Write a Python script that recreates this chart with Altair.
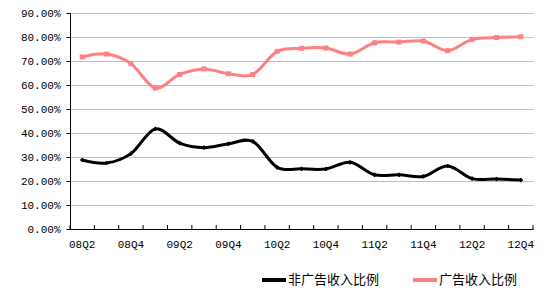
import altair as alt
import pandas as pd

quarters = ["08Q2", "08Q3", "08Q4", "09Q1", "09Q2", "09Q3", "09Q4", "10Q1", "10Q2", "10Q3",
            "10Q4", "11Q1", "11Q2", "11Q3", "11Q4", "12Q1", "12Q2", "12Q3", "12Q4"]
non_ad = [28.75, 27.5, 31.4, 41.7, 35.8, 33.9, 35.5, 36.5, 25.7, 25.1,
          25.0, 27.8, 22.6, 22.6, 21.9, 26.25, 21.0, 20.8, 20.4]
ad = [71.7, 72.9, 68.9, 58.75, 64.4, 66.7, 64.7, 64.4, 74.0, 75.3,
      75.4, 72.9, 77.6, 77.9, 78.3, 74.3, 79.0, 79.8, 80.1]
series_names = ["非广告收入比例", "广告收入比例"]
tick_labels = quarters[::2]
y_ticks = [0.0, 0.1, 0.2, 0.3, 0.4, 0.5, 0.6, 0.7, 0.8, 0.9]

df = pd.DataFrame({
    "q": quarters * 2,
    "v": [x / 100 for x in non_ad + ad],
    "s": [series_names[0]] * len(quarters) + [series_names[1]] * len(quarters),
})

xsc = alt.Scale(type="band", domain=quarters, paddingInner=0, paddingOuter=0)
ysc = alt.Scale(domain=[0, 0.9], nice=False, zero=True)
csc = alt.Scale(domain=series_names, range=["#000000", "#ff8080"])

x_axis = alt.Axis(values=tick_labels, ticks=False, domain=True, domainColor="black",
                  labelFont="Liberation Mono", labelFontSize=11, labelColor="black",
                  labelPadding=9, title=None, grid=False, labelAngle=0)
y_axis = alt.Axis(values=y_ticks, format=".2%", grid=True, gridColor="#c0c0c0",
                  domainColor="black", tickColor="black", tickSize=4, labelPadding=6,
                  labelFont="Liberation Mono", labelFontSize=11, labelColor="black",
                  title=None)

def xenc(bp=0.5):
    return alt.X("q:N", scale=xsc, bandPosition=bp, sort=quarters, axis=x_axis)

yenc = alt.Y("v:Q", scale=ysc, axis=y_axis)

base = alt.Chart(df)

line = base.mark_line(interpolate="cardinal", strokeWidth=3).encode(
    x=xenc(),
    y=yenc,
    color=alt.Color("s:N", scale=csc,
                    legend=alt.Legend(title=None, orient="none", legendX=190, legendY=253,
                                      direction="horizontal", symbolType="stroke",
                                      symbolSize=576, symbolStrokeWidth=4,
                                      labelFont="Noto Sans CJK SC", labelFontSize=13,
                                      labelColor="black", columnPadding=25, labelOffset=0,
                                      padding=0)),
)

pts_black = base.transform_filter(alt.datum.s == series_names[0]).mark_point(
    filled=True, opacity=1, shape="cross", size=18, color="#000000"
).encode(x=xenc(), y=yenc)

pts_pink = base.transform_filter(alt.datum.s == series_names[1]).mark_point(
    filled=True, opacity=1, shape="square", size=25, color="#ff8080"
).encode(x=xenc(), y=yenc)

ticks = base.transform_filter(alt.datum.s == series_names[0]).mark_rule(color="black").encode(
    x=xenc(0),
    y=alt.value(212),
    y2=alt.value(216),
)
end_tick = base.transform_filter(
    (alt.datum.s == series_names[0]) & (alt.datum.q == quarters[-1])
).mark_rule(color="black").encode(
    x=xenc(1),
    y=alt.value(212),
    y2=alt.value(216),
)

chart = alt.layer(line, pts_black, pts_pink, ticks, end_tick).properties(
    width=463, height=216,
    autosize=alt.AutoSizeParams(type="none"),
    padding={"left": 70, "top": 13, "right": 17, "bottom": 76},
    background="white",
).configure_view(stroke=None)

chart.save("out.html", embed_options={"renderer": "svg", "actions": False})
